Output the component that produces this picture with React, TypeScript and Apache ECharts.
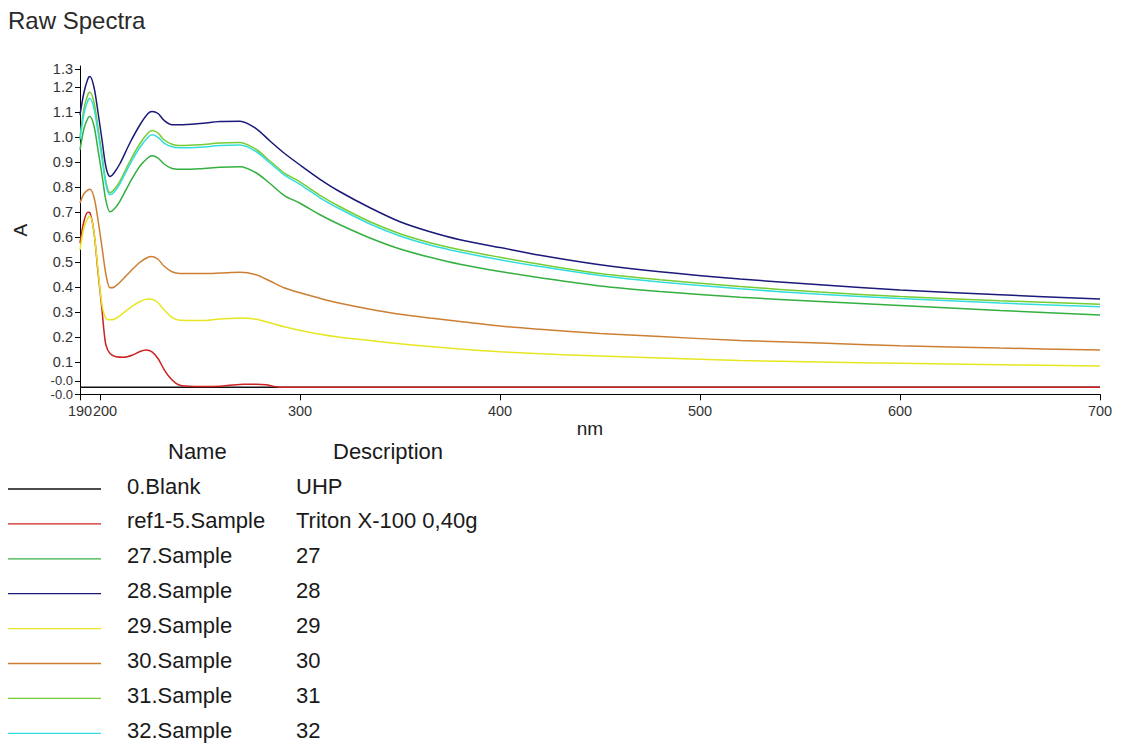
import React, { useEffect, useRef } from "react";
import * as echarts from "echarts";

// ---- data ----
const wavelengths = [190, 192, 194, 195, 197, 199, 201, 203, 205, 207, 210, 215, 220, 224, 226, 229, 232, 236, 240, 250, 260, 270, 278, 285, 292, 300, 310, 320, 335, 350, 365, 380, 400, 420, 450, 480, 520, 560, 600, 650, 700];

const blankWavelengths = [190, 700];
const blankValues = [0, 0];

const refWavelengths = [190, 192, 194, 195, 197, 199, 201, 202, 203, 205, 208, 212, 216, 220, 223, 226, 229, 232, 235, 238, 241, 250, 260, 266, 272, 278, 283, 287, 290, 700];
const refValues = [0.577, 0.665, 0.7, 0.698, 0.62, 0.46, 0.31, 0.225, 0.168, 0.135, 0.122, 0.12, 0.128, 0.143, 0.149, 0.142, 0.115, 0.072, 0.038, 0.016, 0.006, 0.003, 0.004, 0.009, 0.012, 0.012, 0.01, 0.003, 0, 0];

const s27 = [0.95, 1.035, 1.077, 1.083, 1.045, 0.95, 0.85, 0.745, 0.702, 0.712, 0.745, 0.82, 0.885, 0.918, 0.926, 0.917, 0.893, 0.875, 0.872, 0.874, 0.88,
  0.882, 0.858, 0.815, 0.768, 0.736, 0.69, 0.65, 0.597, 0.553, 0.52, 0.492, 0.463, 0.438, 0.405, 0.383, 0.36, 0.343, 0.327, 0.307, 0.289];
const s28 = [1.09, 1.18, 1.235, 1.243, 1.2, 1.1, 0.99, 0.88, 0.843, 0.857, 0.895, 0.978, 1.05, 1.095, 1.103, 1.095, 1.068, 1.05, 1.05, 1.055, 1.063,
  1.064, 1.035, 0.985, 0.937, 0.889, 0.832, 0.782, 0.718, 0.662, 0.622, 0.59, 0.559, 0.528, 0.49, 0.462, 0.433, 0.41, 0.389, 0.37, 0.353];
const s29 = [0.55, 0.64, 0.678, 0.685, 0.62, 0.47, 0.33, 0.275, 0.27, 0.272, 0.287, 0.318, 0.343, 0.353, 0.352, 0.338, 0.31, 0.28, 0.268, 0.267, 0.273,
  0.277, 0.272, 0.258, 0.242, 0.228, 0.212, 0.2, 0.187, 0.174, 0.163, 0.153, 0.142, 0.134, 0.125, 0.117, 0.107, 0.101, 0.096, 0.09, 0.085];
const s30 = [0.737, 0.775, 0.79, 0.792, 0.76, 0.67, 0.56, 0.45, 0.398, 0.4, 0.42, 0.462, 0.5, 0.52, 0.523, 0.512, 0.485, 0.462, 0.455, 0.455, 0.457,
  0.46, 0.45, 0.425, 0.398, 0.378, 0.356, 0.336, 0.312, 0.292, 0.277, 0.263, 0.245, 0.232, 0.215, 0.203, 0.187, 0.177, 0.166, 0.157, 0.149];
const s31 = [1.0, 1.115, 1.172, 1.18, 1.14, 1.04, 0.93, 0.82, 0.778, 0.79, 0.825, 0.905, 0.975, 1.017, 1.027, 1.017, 0.99, 0.972, 0.967, 0.97, 0.977,
  0.979, 0.952, 0.905, 0.858, 0.822, 0.768, 0.722, 0.662, 0.614, 0.578, 0.55, 0.52, 0.492, 0.455, 0.43, 0.403, 0.381, 0.363, 0.346, 0.332];
const s32 = [0.99, 1.095, 1.148, 1.155, 1.115, 1.02, 0.915, 0.81, 0.77, 0.78, 0.815, 0.893, 0.96, 1.0, 1.01, 1.0, 0.977, 0.962, 0.958, 0.96, 0.967,
  0.969, 0.943, 0.897, 0.85, 0.812, 0.758, 0.713, 0.653, 0.605, 0.569, 0.541, 0.51, 0.483, 0.447, 0.421, 0.394, 0.372, 0.355, 0.337, 0.322];

const seriesNames = ["0.Blank", "ref1-5.Sample", "27.Sample", "28.Sample", "29.Sample", "30.Sample", "31.Sample", "32.Sample"];
const seriesDescriptions = ["UHP", "Triton X-100 0,40g", "27", "28", "29", "30", "31", "32"];
const seriesColors = ["#111111", "#cc2222", "#33b040", "#1a1a7a", "#e6e622", "#cc7f33", "#77cc33", "#33dddd"];

const xTickValues = [190, 200, 300, 400, 500, 600, 700];
const xLabelValues = [190, 300, 400, 500, 600, 700];
const xExtraLabelValues = [200];
const yTickValues = [-0.028, 0.026, 0.1, 0.2, 0.3, 0.4, 0.5, 0.6, 0.7, 0.8, 0.9, 1.0, 1.1, 1.2, 1.272];
const yTickLabels = ["-0.0", "-0.0", "0.1", "0.2", "0.3", "0.4", "0.5", "0.6", "0.7", "0.8", "0.9", "1.0", "1.1", "1.2", "1.3"];
const yLabelValues = yTickValues.filter((_, i) => i !== 1);
const yExtraLabelValues = [yTickValues[1]];

const FONT = '"Liberation Sans", Arial, sans-serif';

function pairs(xs: number[], ys: number[]) {
  return xs.map((x, i) => [x, ys[i]]);
}

function yLabel(v: number) {
  let best = 0;
  let bd = Infinity;
  yTickValues.forEach((t, i) => {
    const d = Math.abs(t - v);
    if (d < bd) { bd = d; best = i; }
  });
  const txt = yTickLabels[best];
  return best <= 1 ? "{s|" + txt + "}" : txt;
}

export default function App() {
  const ref = useRef<HTMLDivElement>(null);

  useEffect(() => {
    if (!ref.current) return;
    const chart = echarts.init(ref.current, undefined, { renderer: "svg" });

    const dataSets = [
      pairs(blankWavelengths, blankValues),
      pairs(refWavelengths, refValues),
      pairs(wavelengths, s27),
      pairs(wavelengths, s28),
      pairs(wavelengths, s29),
      pairs(wavelengths, s30),
      pairs(wavelengths, s31),
      pairs(wavelengths, s32),
    ];

    const rowY0 = 489;
    const rowPitch = 34.9;
    const legendGraphics: any[] = [];
    legendGraphics.push({
      type: "text", x: 8, y: 20.5,
      style: { text: "Raw Spectra", fontSize: 24, fontFamily: FONT, fill: "#2a2a2a", verticalAlign: "middle", align: "left" },
    });
    legendGraphics.push({
      type: "text", x: 168, y: 451.5,
      style: { text: "Name", fontSize: 22, fontFamily: FONT, fill: "#1a1a1a", verticalAlign: "middle", align: "left" },
    });
    legendGraphics.push({
      type: "text", x: 333, y: 451.5,
      style: { text: "Description", fontSize: 22, fontFamily: FONT, fill: "#1a1a1a", verticalAlign: "middle", align: "left" },
    });
    seriesNames.forEach((name, i) => {
      const y = rowY0 + i * rowPitch;
      legendGraphics.push({
        type: "line",
        shape: { x1: 8, y1: y, x2: 101, y2: y },
        style: { stroke: seriesColors[i], lineWidth: 1.3 },
      });
      legendGraphics.push({
        type: "text", x: 127, y: y - 3,
        style: { text: name, fontSize: 22, fontFamily: FONT, fill: "#1a1a1a", verticalAlign: "middle", align: "left" },
      });
      legendGraphics.push({
        type: "text", x: 296, y: y - 3,
        style: { text: seriesDescriptions[i], fontSize: 22, fontFamily: FONT, fill: "#1a1a1a", verticalAlign: "middle", align: "left" },
      });
    });

    const labelStyle = { fontSize: 14.5, fontFamily: FONT, color: "#333" };
    const smallRich = { s: { fontSize: 13, fontFamily: FONT, color: "#333", lineHeight: 12 } };

    chart.setOption({
      animation: false,
      backgroundColor: "#ffffff",
      grid: { left: 80, right: 23, top: 66, bottom: 349.7, outerBoundsMode: "none", containLabel: false },
      xAxis: [
        {
          type: "value",
          min: 190,
          max: 700,
          position: "bottom",
          name: "nm",
          nameLocation: "middle",
          nameGap: 25,
          nameTextStyle: { fontSize: 19, fontFamily: FONT, color: "#222" },
          axisLine: { show: true, onZero: false, lineStyle: { color: "#000", width: 1 } },
          axisTick: { show: true, length: 6, inside: false, customValues: xTickValues, lineStyle: { color: "#000" } },
          axisLabel: {
            ...labelStyle, customValues: xLabelValues, margin: 9,
            showMinLabel: true, showMaxLabel: true, hideOverlap: false,
          },
          splitLine: { show: false },
        },
        {
          type: "value",
          min: 190,
          max: 700,
          position: "bottom",
          offset: 0,
          axisLine: { show: false, onZero: false },
          axisTick: { show: false },
          axisLabel: {
            ...labelStyle, customValues: xExtraLabelValues, margin: 9,
            formatter: (v: number) => "{a|" + v + "}",
            rich: { a: { ...labelStyle, padding: [0, 0, 0, 10] } },
          },
          splitLine: { show: false },
        },
      ],
      yAxis: [
        {
          type: "value",
          min: -0.028,
          max: 1.285,
          position: "left",
          name: "A",
          nameLocation: "middle",
          nameRotate: 90,
          nameGap: 50,
          nameTextStyle: { fontSize: 19, fontFamily: FONT, color: "#222" },
          axisLine: { show: true, onZero: false, lineStyle: { color: "#000", width: 1 } },
          axisTick: { show: true, length: 5, inside: false, customValues: yTickValues, lineStyle: { color: "#000" } },
          axisLabel: {
            ...labelStyle,
            lineHeight: 12,
            customValues: yLabelValues,
            margin: 7,
            showMinLabel: true,
            showMaxLabel: true,
            hideOverlap: false,
            formatter: yLabel,
            rich: smallRich,
          },
          splitLine: { show: false },
        },
        {
          type: "value",
          min: -0.028,
          max: 1.285,
          position: "left",
          offset: 0,
          axisLine: { show: false, onZero: false },
          axisTick: { show: false },
          axisLabel: { ...labelStyle, lineHeight: 12, customValues: yExtraLabelValues, margin: 7, formatter: yLabel, rich: smallRich },
          splitLine: { show: false },
        },
      ],
      series: dataSets.map((data, i) => ({
        type: "line",
        name: seriesNames[i],
        data,
        xAxisIndex: 0,
        yAxisIndex: 0,
        showSymbol: false,
        symbol: "none",
        smooth: 0.3,
        lineStyle: { color: seriesColors[i], width: 1.5 },
        itemStyle: { color: seriesColors[i] },
        z: 2 + i,
      })),
      graphic: legendGraphics,
    });

    return () => chart.dispose();
  }, []);

  return (
    <div
      ref={ref}
      style={{ position: "fixed", left: 0, top: 0, width: 1123, height: 744, background: "#fff" }}
    />
  );
}
